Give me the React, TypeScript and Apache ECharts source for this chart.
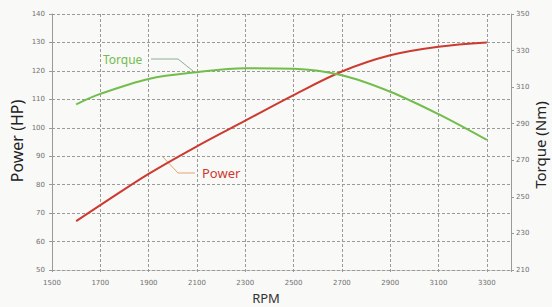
import React, { useEffect, useRef } from "react";
import * as echarts from "echarts";

const rpm = [1600, 1700, 1900, 2100, 2300, 2500, 2700, 2900, 3100, 3300];
const powerHP = [67.2, 72.8, 83.8, 93.5, 102.5, 111.5, 119.8, 125.5, 128.5, 130.0];
const torqueNm = [300.6, 306.3, 314.5, 318.2, 320.3, 320.0, 316.5, 307.5, 295.2, 281.1];

const xMin = 1500;
const xMax = 3400;
const xStep = 200;
const hpMin = 50;
const hpMax = 140;
const hpStep = 10;
const nmMin = 210;
const nmMax = 350;
const nmStep = 20;

const RED = "#cc3a30";
const GREEN = "#72bd4c";
const GRID = "#9a9a9a";
const LABEL = "#707070";

export default function App() {
  const ref = useRef<HTMLDivElement>(null);
  useEffect(() => {
    if (!ref.current) return;
    const chart = echarts.init(ref.current, undefined, { renderer: "svg" });
    const dashed = { color: GRID, width: 1, type: [3, 2] as any };
    const tickLabel = { fontSize: 7, color: LABEL, fontFamily: "DejaVu Sans" };
    chart.setOption({
      animation: false,
      backgroundColor: "#f9f9f8",
      grid: { left: 52, right: 41, top: 14, bottom: 37, containLabel: false },
      xAxis: {
        type: "value",
        min: xMin,
        max: xMax,
        interval: xStep,
        axisLine: { show: true, lineStyle: dashed },
        axisTick: { show: true, length: 2, lineStyle: { color: GRID } },
        axisLabel: {
          ...tickLabel,
          margin: 9,
          formatter: (v: number) => (v === xMax ? "" : String(v)),
        },
        splitLine: { show: true, lineStyle: dashed },
      },
      yAxis: [
        {
          type: "value",
          position: "left",
          min: hpMin,
          max: hpMax,
          interval: hpStep,
          axisLine: { show: true, lineStyle: dashed },
          axisTick: { show: true, length: 3, lineStyle: { color: GRID } },
          axisLabel: { ...tickLabel, margin: 7 },
          splitLine: { show: true, lineStyle: dashed },
        },
        {
          type: "value",
          position: "right",
          min: nmMin,
          max: nmMax,
          interval: nmStep,
          axisLine: { show: true, lineStyle: dashed },
          axisTick: { show: true, length: 3, lineStyle: { color: GRID } },
          axisLabel: { ...tickLabel, margin: 5 },
          splitLine: { show: false },
        },
      ],
      series: [
        {
          name: "Power",
          type: "line",
          yAxisIndex: 0,
          smooth: 0.35,
          showSymbol: false,
          lineStyle: { color: RED, width: 2 },
          data: rpm.map((r, i) => [r, powerHP[i]]),
        },
        {
          name: "Torque",
          type: "line",
          yAxisIndex: 1,
          smooth: 0.35,
          showSymbol: false,
          lineStyle: { color: GREEN, width: 2 },
          data: rpm.map((r, i) => [r, torqueNm[i]]),
        },
      ],
      graphic: [
        {
          type: "text",
          x: 17,
          y: 141,
          rotation: Math.PI / 2,
          style: {
            text: "Power (HP)",
            fontSize: 16,
            fontFamily: "Noto Sans",
            fill: "#222",
            textAlign: "center",
            textVerticalAlign: "middle",
          },
        },
        {
          type: "text",
          x: 540,
          y: 145,
          rotation: Math.PI / 2,
          style: {
            text: "Torque (Nm)",
            fontSize: 15,
            fontFamily: "Noto Sans",
            fill: "#222",
            textAlign: "center",
            textVerticalAlign: "middle",
          },
        },
        {
          type: "text",
          x: 266,
          y: 298,
          style: {
            text: "RPM",
            fontSize: 13,
            fontFamily: "Noto Sans",
            fill: "#333",
            textAlign: "center",
            textVerticalAlign: "middle",
          },
        },
        {
          type: "text",
          x: 103,
          y: 59,
          style: {
            text: "Torque",
            fontSize: 12,
            fontFamily: "Noto Sans",
            fill: GREEN,
            textAlign: "left",
            textVerticalAlign: "middle",
          },
        },
        {
          type: "text",
          x: 202,
          y: 173,
          style: {
            text: "Power",
            fontSize: 13,
            fontFamily: "Noto Sans",
            fill: RED,
            textAlign: "left",
            textVerticalAlign: "middle",
          },
        },
        {
          type: "polyline",
          shape: { points: [[151, 59], [178, 59], [193, 71]] },
          style: { stroke: "#8fae92", lineWidth: 1, fill: "none" },
        },
        {
          type: "polyline",
          shape: { points: [[163, 157], [178, 173], [195, 173]] },
          style: { stroke: "#e3a474", lineWidth: 1, fill: "none" },
        },
      ],
    });
    return () => chart.dispose();
  }, []);
  return (
    <div
      ref={ref}
      style={{ position: "absolute", left: 0, top: 0, width: 552, height: 307 }}
    />
  );
}
